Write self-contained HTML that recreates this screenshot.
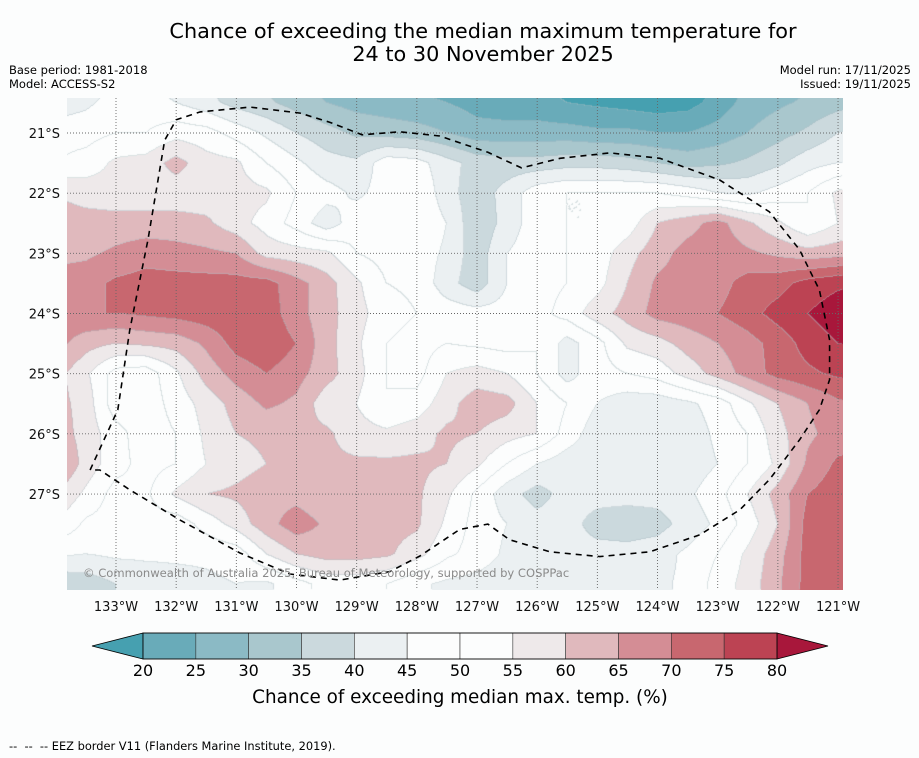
<!DOCTYPE html>
<html><head><meta charset="utf-8"><style>
html,body{margin:0;padding:0;background:#fcfdfd;}
#wrap{position:relative;width:919px;height:758px;overflow:hidden;font-family:"DejaVu Sans","Liberation Sans",sans-serif;}
canvas{position:absolute;left:67px;top:98px;}
svg{position:absolute;left:0;top:0;font-family:"DejaVu Sans","Liberation Sans",sans-serif;}
.t{position:absolute;font-size:11.5px;color:#000;white-space:nowrap;}
</style></head><body>
<div id="wrap">
<canvas id="map" width="776" height="492"></canvas>
<svg id="ov" width="919" height="758"></svg>
<div class="t" style="left:9px;top:63px;">Base period: 1981-2018</div>
<div class="t" style="left:9px;top:77px;">Model: ACCESS-S2</div>
<div class="t" style="right:8px;top:63px;text-align:right;">Model run: 17/11/2025</div>
<div class="t" style="right:8px;top:77px;text-align:right;">Issued: 19/11/2025</div>
<div class="t" style="left:9px;top:739px;font-size:11.4px;">-- &nbsp;-- &nbsp;-- EEZ border V11 (Flanders Marine Institute, 2019).</div>
</div>
<script>
const lons = [134,133.5,133,132.5,132,131.5,131,130.5,130,129.5,129,128.5,128,127.5,127,126.5,126,125.5,125,124.5,124,123.5,123,122.5,122,121.5,121,120.5];
const lats = [20,20.5,21,21.5,22,22.5,23,23.5,24,24.5,25,25.5,26,26.5,27,27.5,28,28.5,29];
const probs = [
[39,41,44,44,42,39,35,33,30,27,25,24,23,22,20,19,19,17,16,15,14,15,19,24,26,28,30,32],
[42,44,47,47,45,42,38,36,33,30,28,27,26,25,23,22,22,20,19,18,17,18,22,27,29,31,33,35],
[48,48,50,50,53,52,48,44,40,37,34,33,32,30,27,27,27,27,26,26,25,25,27,30,33,36,40,42],
[50,52,56,57,62,57,56,50,46,42,41,48,47,42,38,37,37,38,38,37,35,33,34,36,39,43,45,45],
[60,58,57,57,57,57,57,56,50,47,44,47,50,42,37,42,48,50,50,50,50,48,45,44,47,50,56,58],
[62,62,62,62,62,61,57,53,48,42,48,48,50,45,36,42,48,50,50,52,60,63,67,61,56,50,55,57],
[63,64,66,68,67,66,65,58,57,56,50,48,48,44,37,45,48,50,52,58,63,67,68,66,64,62,63,65],
[68,68,71,72,72,72,72,72,67,62,56,50,49,42,37,45,48,50,53,60,66,67,68,72,73,77,79,80],
[68,70,70,71,72,73,74,73,67,62,57,52,50,48,47,47,48,52,58,62,67,68,70,73,77,80,83,83],
[67,62,60,61,62,66,72,74,70,62,56,50,48,50,49,48,50,43,48,56,58,62,65,68,72,77,80,80],
[62,56,48,47,54,62,67,70,67,62,57,50,48,55,57,55,50,43,48,50,52,57,62,67,72,74,76,76],
[62,58,47,47,52,57,62,66,64,57,55,50,52,58,63,62,55,50,45,42,42,44,47,54,60,65,69,70],
[63,58,52,47,50,56,60,61,61,61,57,56,58,61,60,57,55,48,42,42,42,42,46,50,58,64,67,68],
[67,58,52,48,50,55,58,60,61,61,61,61,61,60,56,50,45,42,42,43,42,42,45,50,56,66,71,72],
[60,54,48,49,56,60,61,63,63,61,61,62,61,56,49,42,38,42,42,42,42,44,48,55,62,70,73,73],
[55,49,48,48,47,52,57,63,68,64,61,62,61,54,48,45,42,42,38,37,38,42,46,52,60,72,74,74],
[46,45,46,46,46,46,47,55,60,62,62,61,57,51,48,44,42,42,42,42,43,46,50,56,63,72,74,74],
[36,37,40,42,43,44,45,44,48,52,52,50,46,44,43,42,42,42,42,43,44,46,52,57,64,72,74,74],
[36,37,40,42,43,44,45,44,48,52,52,50,46,44,43,42,42,42,42,43,44,46,52,57,64,72,74,74]
];
const bandColors = ["#46a0b0","#69abb9","#8bbac5","#a9c7cd","#cbd9dd","#ebf0f2","#fcfdfd","#fcfdfd","#eee9ea","#e0b9bd","#d48d95","#c8676f","#bc4353","#a8173b"];
const cbLevels = [20,25,30,35,40,45,50,55,60,65,70,75,80];
const lonTicks = [133,132,131,130,129,128,127,126,125,124,123,122,121];
const latTicks = [21,22,23,24,25,26,27];
const eezLon = [133.43,132.97,132.77,132.47,132.19,132.0,131.6,130.77,129.94,129.45,128.91,128.28,127.62,126.82,126.26,125.62,124.79,123.96,122.97,122.14,121.64,121.31,121.14,121.14,121.31,121.64,122.14,122.63,123.30,124.13,124.96,125.79,126.46,126.82,127.29,127.95,128.45,129.28,130.11,130.94,131.94,132.77,133.27,133.43];
const eezLat = [26.60,25.60,24.27,22.78,21.12,20.78,20.65,20.57,20.67,20.82,21.03,20.98,21.05,21.32,21.58,21.42,21.33,21.42,21.78,22.31,22.94,23.61,24.44,25.10,25.60,26.10,26.76,27.26,27.68,27.96,28.04,27.96,27.76,27.50,27.59,28.03,28.29,28.43,28.33,27.98,27.43,26.93,26.60,26.60];

const xOf = lon => 116 + (133 - lon) * 60.17;
const yOf = lat => 133 + (lat - 21) * 60.17;
const lonOf = x => 133 - (x - 116) / 60.17;
const latOf = y => 21 + (y - 133) / 60.17;

function sample(lon, lat){
  let fi = (lons[0] - lon) / 0.5, fj = (lat - lats[0]) / 0.5;
  fi = Math.max(0, Math.min(lons.length - 1.0001, fi));
  fj = Math.max(0, Math.min(lats.length - 1.0001, fj));
  const i = Math.floor(fi), j = Math.floor(fj), a = fi - i, b = fj - j;
  const v00 = probs[j][i], v10 = probs[j][i+1], v01 = probs[j+1][i], v11 = probs[j+1][i+1];
  return v00*(1-a)*(1-b) + v10*a*(1-b) + v01*(1-a)*b + v11*a*b;
}
function hex(c){return [parseInt(c.slice(1,3),16),parseInt(c.slice(3,5),16),parseInt(c.slice(5,7),16)];}
const rgb = bandColors.map(hex);
function band(v){ if(v<20) return 0; if(v>=80) return 13; return Math.floor((v-20)/5)+1; }

(function draw(){
  const cv = document.getElementById('map'), ctx = cv.getContext('2d');
  const W = cv.width, H = cv.height, img = ctx.createImageData(W, H);
  for (let y=0;y<H;y++) for (let x=0;x<W;x++){
    const v = sample(lonOf(x+67.5), latOf(y+98.5));
    const c = rgb[band(v)], k = (y*W+x)*4;
    img.data[k]=c[0]; img.data[k+1]=c[1]; img.data[k+2]=c[2]; img.data[k+3]=255;
  }
  for (let y=0;y<H-1;y++) for (let x=0;x<W-1;x++){
    const p = y*W+x;
    const v = sample(lonOf(x+67.5), latOf(y+98.5));
    const vr = sample(lonOf(x+68.5), latOf(y+98.5)), vd = sample(lonOf(x+67.5), latOf(y+99.5));
    if (Math.floor(v/5)!==Math.floor(vr/5) || Math.floor(v/5)!==Math.floor(vd/5)){
      const k = p*4;
      img.data[k]=Math.round(img.data[k]*0.55+175*0.45);
      img.data[k+1]=Math.round(img.data[k+1]*0.55+190*0.45);
      img.data[k+2]=Math.round(img.data[k+2]*0.55+196*0.45);
    }
  }
  ctx.putImageData(img,0,0);
})();

(function overlay(){
  const NS = 'http://www.w3.org/2000/svg', svg = document.getElementById('ov');
  function mk(tag, attrs, parent){ const e = document.createElementNS(NS, tag); for (const k in attrs) e.setAttribute(k, attrs[k]); (parent||svg).appendChild(e); return e; }
  const g = mk('g', {});
  
  
  lonTicks.forEach(lon => {
    const x = xOf(lon);
    const l = mk('line', {x1:x, x2:x, y1:98, y2:590, stroke:'#666', 'stroke-width':0.9, 'stroke-dasharray':'1,2'}, g);
    
    
    const t = mk('text', {x:x, y:611, 'text-anchor':'middle', 'font-size':13, fill:'#111'});
    t.textContent = lon + '°W';
    
    
  });
  latTicks.forEach(lat => {
    const y = yOf(lat);
    const l = mk('line', {x1:67, x2:843, y1:y, y2:y, stroke:'#666', 'stroke-width':0.9, 'stroke-dasharray':'1,2'}, g);
    
    
    const t = mk('text', {x:60, y:y+5, 'text-anchor':'end', 'font-size':13, fill:'#111'});
    t.textContent = lat + '°S';
    
    
  });
  const pts = eezLon.map((lon,i)=> xOf(lon).toFixed(1)+','+yOf(eezLat[i]).toFixed(1)).join(' ');
  const eez = mk('polyline', {points:pts, fill:'none', stroke:'#000', 'stroke-width':1.6, 'stroke-dasharray':'6,5'});
  
  
  const cp = mk('text', {x:83, y:577, 'font-size':11.55, fill:'#8a8a8a'});
  cp.textContent = '© Commonwealth of Australia 2025, Bureau of Meteorology, supported by COSPPac';
  
  
  const t1 = mk('text', {x:483, y:38, 'text-anchor':'middle', 'font-size':20.8, fill:'#000'});
  t1.textContent = 'Chance of exceeding the median maximum temperature for';
  
  
  const t2 = mk('text', {x:483, y:61, 'text-anchor':'middle', 'font-size':20.8, fill:'#000'});
  t2.textContent = '24 to 30 November 2025';
  
  
  const cbX0 = 143, cbX1 = 777, cbY = 633, cbH = 26;
  const cx = v => cbX0 + (v - cbLevels[0]) / (cbLevels[cbLevels.length-1] - cbLevels[0]) * (cbX1 - cbX0);
  const cb = mk('g', {});
  
  
  const lt = mk('polygon', {points:`92,${cbY+cbH/2} ${cbX0},${cbY} ${cbX0},${cbY+cbH}`, fill:bandColors[0], stroke:'#000', 'stroke-width':0.8}, cb);
  
  
  const rt = mk('polygon', {points:`828,${cbY+cbH/2} ${cbX1},${cbY} ${cbX1},${cbY+cbH}`, fill:bandColors[13], stroke:'#000', 'stroke-width':0.8}, cb);
  
  
  for (let i=0;i<cbLevels.length-1;i++){
    const r = mk('rect', {x:cx(cbLevels[i]), y:cbY, width:cx(cbLevels[i+1])-cx(cbLevels[i]), height:cbH, fill:bandColors[i+1], stroke:'#333', 'stroke-width':0.6}, cb);
    
    
  }
  mk('rect', {x:cbX0, y:cbY, width:cbX1-cbX0, height:cbH, fill:'none', stroke:'#000', 'stroke-width':0.8}, cb);
  cbLevels.forEach(v => {
    const t = mk('text', {x:cx(v), y:676, 'text-anchor':'middle', 'font-size':16, fill:'#000'}, cb);
    t.textContent = v;
    
    
  });
  const ct = mk('text', {x:460, y:703, 'text-anchor':'middle', 'font-size':18.35, fill:'#000'});
  ct.textContent = 'Chance of exceeding median max. temp. (%)';
  
  
})();
</script>
</body></html>
